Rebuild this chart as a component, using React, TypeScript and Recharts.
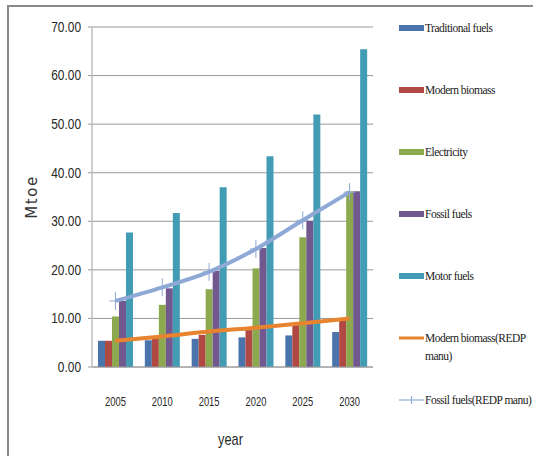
import React from 'react';
import { ComposedChart, Bar, Line, XAxis, YAxis, CartesianGrid, Legend, Label } from 'recharts';

// Energy demand by fuel type, Mtoe
const years = ['2005', '2010', '2015', '2020', '2025', '2030'];
const traditionalFuels = [5.4, 5.5, 5.8, 6.1, 6.5, 7.2];
const modernBiomass = [5.4, 6.0, 6.6, 7.6, 8.7, 9.6];
const electricity = [10.4, 12.8, 16.0, 20.3, 26.7, 36.2];
const fossilFuels = [13.6, 16.2, 19.8, 24.5, 30.1, 36.2];
const motorFuels = [27.7, 31.7, 37.0, 43.4, 52.0, 65.4];
const modernBiomassRedp = [5.4, 6.3, 7.3, 8.1, 9.0, 10.0];
const fossilFuelsRedp = [13.6, 16.4, 19.6, 24.3, 30.2, 36.0];
const yTicks = [0, 10, 20, 30, 40, 50, 60, 70];

const chartData = years.map((year, i) => ({
  year,
  traditional: traditionalFuels[i],
  biomass: modernBiomass[i],
  electricity: electricity[i],
  fossil: fossilFuels[i],
  motor: motorFuels[i],
  biomassRedp: modernBiomassRedp[i],
  fossilRedp: fossilFuelsRedp[i],
}));

const barSeries = [
  { key: 'traditional', name: 'Traditional fuels', color: '#4A74AB' },
  { key: 'biomass', name: 'Modern biomass', color: '#B04843' },
  { key: 'electricity', name: 'Electricity', color: '#8DA94F' },
  { key: 'fossil', name: 'Fossil fuels', color: '#71588F' },
  { key: 'motor', name: 'Motor fuels', color: '#429CB4' },
];

const ORANGE = '#E8832F';
const LIGHT_BLUE = '#8EA9D6';
const TEXT = '#262626';
const SANS = '"Liberation Sans", Arial, sans-serif';

const legendItems = [
  ...barSeries.map((s) => ({ label: s.name, color: s.color, kind: 'bar' })),
  { label: 'Modern biomass(REDP\nmanu)', color: ORANGE, kind: 'line' },
  { label: 'Fossil fuels(REDP manu)', color: LIGHT_BLUE, kind: 'cross' },
];

// Narrow-looking axis text: regular sans squeezed horizontally
const YTick = (props: any) => {
  const { x, y, payload } = props;
  return (
    <text
      transform={`translate(${x},${y}) scale(0.85,1)`}
      textAnchor="end"
      dominantBaseline="central"
      fontFamily={SANS}
      fontSize={14}
      fill={TEXT}
    >
      {Number(payload.value).toFixed(2)}
    </text>
  );
};

const XTick = (props: any) => {
  const { x, y, payload } = props;
  return (
    <text
      transform={`translate(${x},${y}) scale(0.75,1)`}
      textAnchor="middle"
      dy="0.71em"
      fontFamily={SANS}
      fontSize={12.5}
      fill={TEXT}
    >
      {payload.value}
    </text>
  );
};

const YearLabel = (props: any) => {
  const { x, y, width, height } = props.viewBox;
  return (
    <text
      transform={`translate(${x + width / 2 - 2},${y + height - 11}) scale(0.8,1)`}
      textAnchor="middle"
      fontFamily={SANS}
      fontSize={16}
      fill={TEXT}
    >
      year
    </text>
  );
};

const CrossDot = (props: any) => {
  const { cx, cy } = props;
  if (cx == null || cy == null) return null;
  return (
    <g stroke={LIGHT_BLUE} strokeWidth={1}>
      <line x1={cx} y1={cy - 9} x2={cx} y2={cy + 9} />
      <line x1={cx - 6} y1={cy} x2={cx + 6} y2={cy} />
    </g>
  );
};

const renderLegend = () => (
  <div
    style={{
      position: 'relative',
      width: 134,
      height: 456,
      fontFamily: '"Liberation Serif", "Times New Roman", serif',
      fontSize: 11.5,
      letterSpacing: -0.5,
      color: '#1a1a1a',
    }}
  >
    {legendItems.map((item, i) => {
      const cy = 28 + i * 62;
      return (
        <div key={item.label} style={{ position: 'absolute', left: 0, top: cy - 9, display: 'flex' }}>
          <svg width={26} height={18} style={{ flex: 'none' }}>
            {item.kind === 'bar' && <rect x={0} y={6} width={25} height={6} fill={item.color} />}
            {item.kind === 'line' && <line x1={0} y1={9} x2={25} y2={9} stroke={item.color} strokeWidth={3} />}
            {item.kind === 'cross' && (
              <g stroke={item.color} strokeWidth={1.2}>
                <line x1={0} y1={9} x2={25} y2={9} />
                <line x1={12.5} y1={5} x2={12.5} y2={13} />
              </g>
            )}
          </svg>
          <span style={{ whiteSpace: 'pre', lineHeight: '18px' }}>{item.label}</span>
        </div>
      );
    })}
  </div>
);

export default function App() {
  return (
    <div style={{ position: 'fixed', left: 0, top: 0, width: 533, height: 456, overflow: 'hidden', background: '#fff' }}>
      <div
        style={{
          position: 'absolute',
          left: 7,
          top: 5,
          width: 560,
          height: 480,
          borderLeft: '2px solid #8a8a8a',
          borderTop: '2px solid #8a8a8a',
        }}
      />
      <div style={{ position: 'absolute', left: 0, top: 0 }}>
        <ComposedChart
          width={533}
          height={456}
          data={chartData}
          margin={{ top: 27, right: 160, bottom: 0, left: 0 }}
          barGap={0}
        >
          <CartesianGrid vertical={false} stroke="#9a9a9a" />
          <XAxis
            dataKey="year"
            height={89}
            tickLine={false}
            tickSize={0}
            tickMargin={30}
            axisLine={{ stroke: '#9a9a9a' }}
            tick={<XTick />}
          >
            <Label position="insideBottom" content={<YearLabel />} />
          </XAxis>
          <YAxis
            width={92}
            domain={[0, 70]}
            ticks={yTicks}
            interval={0}
            axisLine={{ stroke: '#cfcfcf', strokeWidth: 2 }}
            tickLine={{ stroke: '#9a9a9a' }}
            tickSize={4}
            tickMargin={7}
            tick={<YTick />}
          >
            <Label
              value="Mtoe"
              angle={-90}
              position="insideLeft"
              offset={32}
              style={{ textAnchor: 'middle', fontFamily: '"DejaVu Sans", sans-serif', fontSize: 15, letterSpacing: 1.5, fill: '#333' }}
            />
          </YAxis>
          <Legend
            layout="vertical"
            align="center"
            verticalAlign="middle"
            content={renderLegend}
            wrapperStyle={{ left: 399, top: 0, width: 134, height: 456 }}
          />
          {barSeries.map((s) => (
            <Bar key={s.key} dataKey={s.key} name={s.name} fill={s.color} barSize={7} isAnimationActive={false} />
          ))}
          <Line
            type="monotone"
            dataKey="biomassRedp"
            name="Modern biomass(REDP manu)"
            stroke={ORANGE}
            strokeWidth={4}
            dot={false}
            activeDot={false}
            isAnimationActive={false}
          />
          <Line
            type="monotone"
            dataKey="fossilRedp"
            name="Fossil fuels(REDP manu)"
            stroke={LIGHT_BLUE}
            strokeWidth={4}
            dot={<CrossDot />}
            activeDot={false}
            isAnimationActive={false}
          />
        </ComposedChart>
      </div>
    </div>
  );
}
